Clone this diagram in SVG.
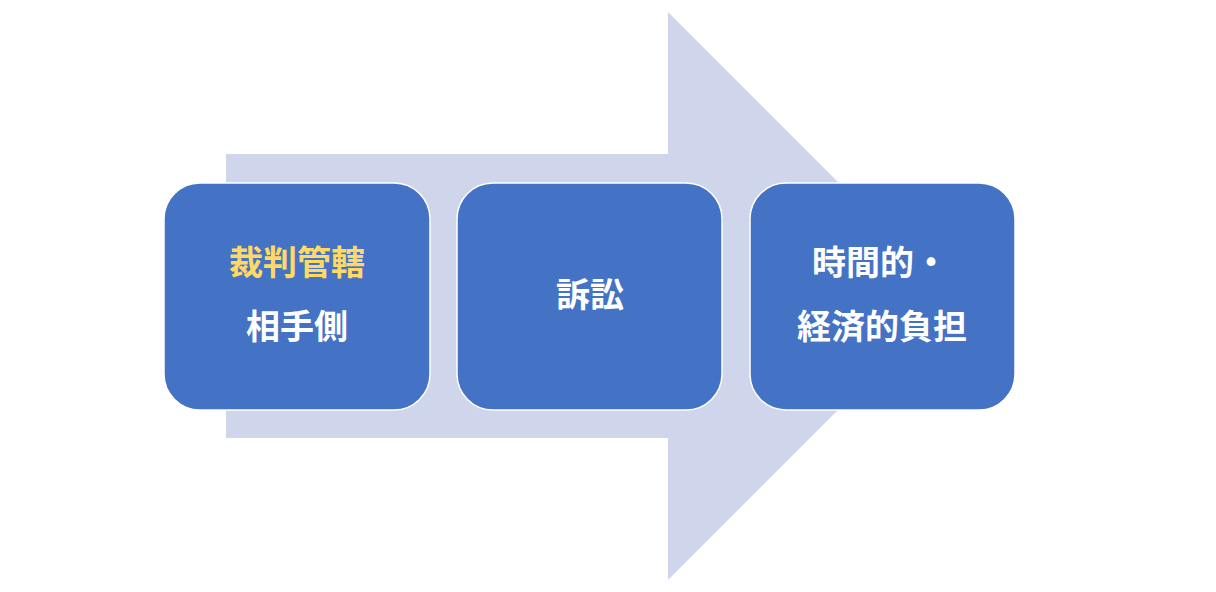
<svg xmlns="http://www.w3.org/2000/svg" width="1216" height="592" viewBox="0 0 1216 592">
<style>
.box{fill:#4472C4;stroke:#fff;stroke-width:1.5}
.t{font-family:"Noto Sans CJK JP",sans-serif;font-weight:bold;font-size:34px;fill:#fff;text-anchor:middle}
.y{fill:#FFD966}
</style>
<rect width="1216" height="592" fill="#fff"/>
<g id="connectors">
<polygon points="226,154 668,154 668,12 952,296 668,580 668,438 226,438" fill="#CFD5EA"/>
</g>
<g id="n1"><rect class="box" x="164" y="183" width="266" height="227" rx="36"/>
<text class="t y" x="297" y="275">裁判管轄</text><text class="t" x="297" y="339">相手側</text></g>
<g id="n2"><rect class="box" x="457" y="183" width="265" height="227" rx="36"/>
<text class="t" x="590" y="307">訴訟</text></g>
<g id="n3"><rect class="box" x="750" y="183" width="265" height="227" rx="36"/>
<text class="t" x="880" y="275">時間的・</text><text class="t" x="882" y="339">経済的負担</text></g>
</svg>
